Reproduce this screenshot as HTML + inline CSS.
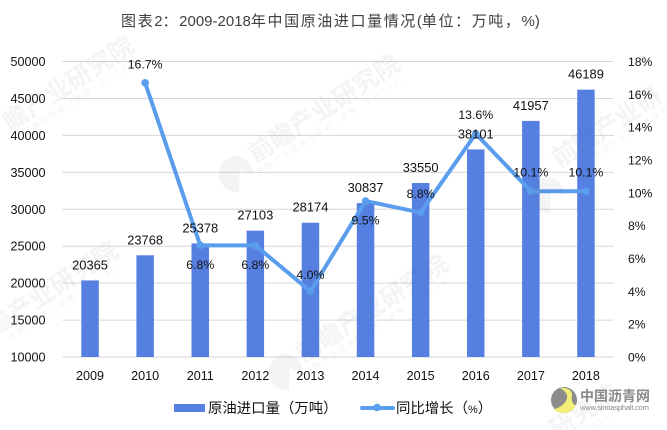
<!DOCTYPE html>
<html lang="zh">
<head>
<meta charset="utf-8">
<title>2009-2018年中国原油进口量情况</title>
<style>
html,body{margin:0;padding:0;background:#fff;width:667px;height:430px;overflow:hidden;}
svg{display:block;overflow:hidden;font-family:"Liberation Sans","Noto Sans CJK SC",sans-serif;}
</style>
</head>
<body>
<svg id="chart" width="667" height="430" viewBox="0 0 667 430" xmlns="http://www.w3.org/2000/svg">
  <rect x="0" y="0" width="667" height="430" fill="#ffffff"/>
  <text x="121" y="26" font-size="15" fill="#404040"><tspan letter-spacing="1.6">图表</tspan>2<tspan letter-spacing="1.6">：</tspan>2009-2018<tspan letter-spacing="1.6">年中国原油进口量情况</tspan>(<tspan letter-spacing="1.6">单位：万吨，</tspan>%)</text>
  <g id="grid"></g>
  <g id="bars"></g>
  <g id="line"></g>
  <g id="leftAxis"></g>
  <g id="rightAxis"></g>
  <g id="xAxis"></g>
  <g id="labels"></g>

  <g>
    <rect x="174" y="404" width="31" height="8" fill="#5580e2"/>
    <text x="208" y="413" font-size="14.4" fill="#111111">原油进口量（万吨）</text>
    <line x1="362" y1="408" x2="393" y2="408" stroke="#5b9ded" stroke-width="4" stroke-linecap="round"/>
    <circle cx="377" cy="407.5" r="3.8" fill="#5b9ded"/>
    <text x="396" y="413" font-size="14.4" fill="#111111">同比增长（<tspan font-size="11">%</tspan>）</text>
  </g>

  <g fill="#5a6b85" opacity="0.075" text-anchor="end">
    <g transform="translate(136,50) rotate(-33)">
      <text font-size="25" font-weight="700">瞻产业研究院</text>
      <text y="12" font-size="8" letter-spacing="2">咨询领导者（股票：839599）</text>
    </g>
    <g transform="translate(402,68) rotate(-33)">
      <text font-size="25" font-weight="700">前瞻产业研究院</text>
      <text y="12" font-size="8" letter-spacing="2">中国产业咨询领导者（股票：839599）</text>
    </g>
    <g transform="translate(120,255) rotate(-33)">
      <text font-size="25" font-weight="700">瞻产业研究院</text>
      <text y="12" font-size="8" letter-spacing="2">咨询领导者（股票：839599）</text>
    </g>
    <g transform="translate(450,268) rotate(-33)">
      <text font-size="25" font-weight="700">前瞻产业研究院</text>
      <text y="12" font-size="8" letter-spacing="2">中国产业咨询领导者（股票：839599）</text>
    </g>
    <g transform="translate(664,100) rotate(-33)">
      <text font-size="25" font-weight="700">前瞻产业研</text>
      <text y="12" font-size="8" letter-spacing="2">中国产业咨询领导者</text>
    </g>
    <g transform="translate(620,398) rotate(-33)">
      <text font-size="25" font-weight="700">研究院</text>
      <text y="12" font-size="8" letter-spacing="2">839599</text>
    </g>
    <path d="M235 156 A18 18 0 0 1 253 174 L240 170 L239 192 A18 18 0 0 1 235 156 Z"/>
    <path d="M285 354 A18 18 0 0 1 303 372 L290 368 L289 390 A18 18 0 0 1 285 354 Z"/>
    <path d="M546 177 A18 18 0 0 1 564 195 L551 191 L550 213 A18 18 0 0 1 546 177 Z"/>
  </g>

  <g>
    <circle cx="564" cy="400" r="13" fill="#8c8c8c"/>
    <path d="M560 388 C568 387 573 391 572 396 C571 401 573 405 576 405 C574 410 569 413 564 413 C560 413 556 412 554 409 C560 408 566 403 567 398 C568 394 565 391 560 388 Z" fill="#f2ee78"/>
    <text x="580" y="401" font-size="14" font-weight="700" fill="#8a8a8a">中国沥青网</text>
    <text x="580" y="410" font-size="7.6" fill="#8a8a8a" textLength="69">www.sinoasphalt.com</text>
  </g>
</svg>
<script>
const years = ["2009","2010","2011","2012","2013","2014","2015","2016","2017","2018"];
const importVolume = [20365,23768,25378,27103,28174,30837,33550,38101,41957,46189];
const growthRate = [null,16.7,6.8,6.8,4.0,9.5,8.8,13.6,10.1,10.1];
const leftTicks = [10000,15000,20000,25000,30000,35000,40000,45000,50000];
const rightTicks = [0,2,4,6,8,10,12,14,16,18];

const NS = "http://www.w3.org/2000/svg";
const plotLeft = 62.5, plotRight = 613.5, plotTop = 61.5, plotBottom = 357;
const leftMin = 10000, leftMax = 50000, rightMin = 0, rightMax = 18;
const barWidth = 17.5;

function xScale(i){ return plotLeft + (i + 0.5) * (plotRight - plotLeft) / years.length; }
function yLeft(v){ return plotBottom - (v - leftMin) / (leftMax - leftMin) * (plotBottom - plotTop); }
function yRight(v){ return plotBottom - (v - rightMin) / (rightMax - rightMin) * (plotBottom - plotTop); }
function make(tag, parent, attrs){
  const el = document.createElementNS(NS, tag);
  for (const k in attrs) el.setAttribute(k, attrs[k]);
  document.getElementById(parent).appendChild(el);
  return el;
}

leftTicks.forEach(function(t){
  const g = make("line", "grid", {x1: plotLeft, x2: plotRight, y1: yLeft(t), y2: yLeft(t), stroke: "#d6d6d6", "stroke-width": 1});
  
  
  const l = make("text", "leftAxis", {x: 45.5, y: yLeft(t) + 4.5, "text-anchor": "end", "font-size": 12.6, fill: "#111111"});
  l.textContent = t;
  
  
});

rightTicks.forEach(function(t){
  const l = make("text", "rightAxis", {x: 628, y: yRight(t) + 4.5, "font-size": 12.2, fill: "#111111"});
  l.textContent = t + "%";
  
  
});

years.forEach(function(y, i){
  const l = make("text", "xAxis", {x: xScale(i), y: 380, "text-anchor": "middle", "font-size": 12.6, fill: "#111111"});
  l.textContent = y;
  
  
});

importVolume.forEach(function(v, i){
  const b = make("rect", "bars", {x: xScale(i) - barWidth / 2, y: yLeft(v), width: barWidth, height: plotBottom - yLeft(v), fill: "#5580e2"});
  
  
  const l = make("text", "labels", {x: xScale(i), y: yLeft(v) - 11, "text-anchor": "middle", "font-size": 12.9, fill: "#111111"});
  l.textContent = v;
  
  
});

const pts = [];
growthRate.forEach(function(v, i){ if (v !== null) pts.push(xScale(i) + "," + yRight(v)); });
const path = make("polyline", "line", {points: pts.join(" "), fill: "none", stroke: "#5b9ded", "stroke-width": 4, "stroke-linejoin": "round"});



growthRate.forEach(function(v, i){
  if (v === null) return;
  const c = make("circle", "line", {cx: xScale(i), cy: yRight(v), r: 3.8, fill: "#5b9ded"});
  
  
  const below = years[i] === "2011" || years[i] === "2012" || years[i] === "2014";
  const dy = below ? 23.5 : (years[i] === "2013" ? -12.5 : -14.5);
  const l = make("text", "labels", {x: xScale(i), y: yRight(v) + dy, "text-anchor": "middle", "font-size": 12.3, fill: "#111111"});
  l.textContent = v.toFixed(1) + "%";
  
  
});
</script>
</body>
</html>
